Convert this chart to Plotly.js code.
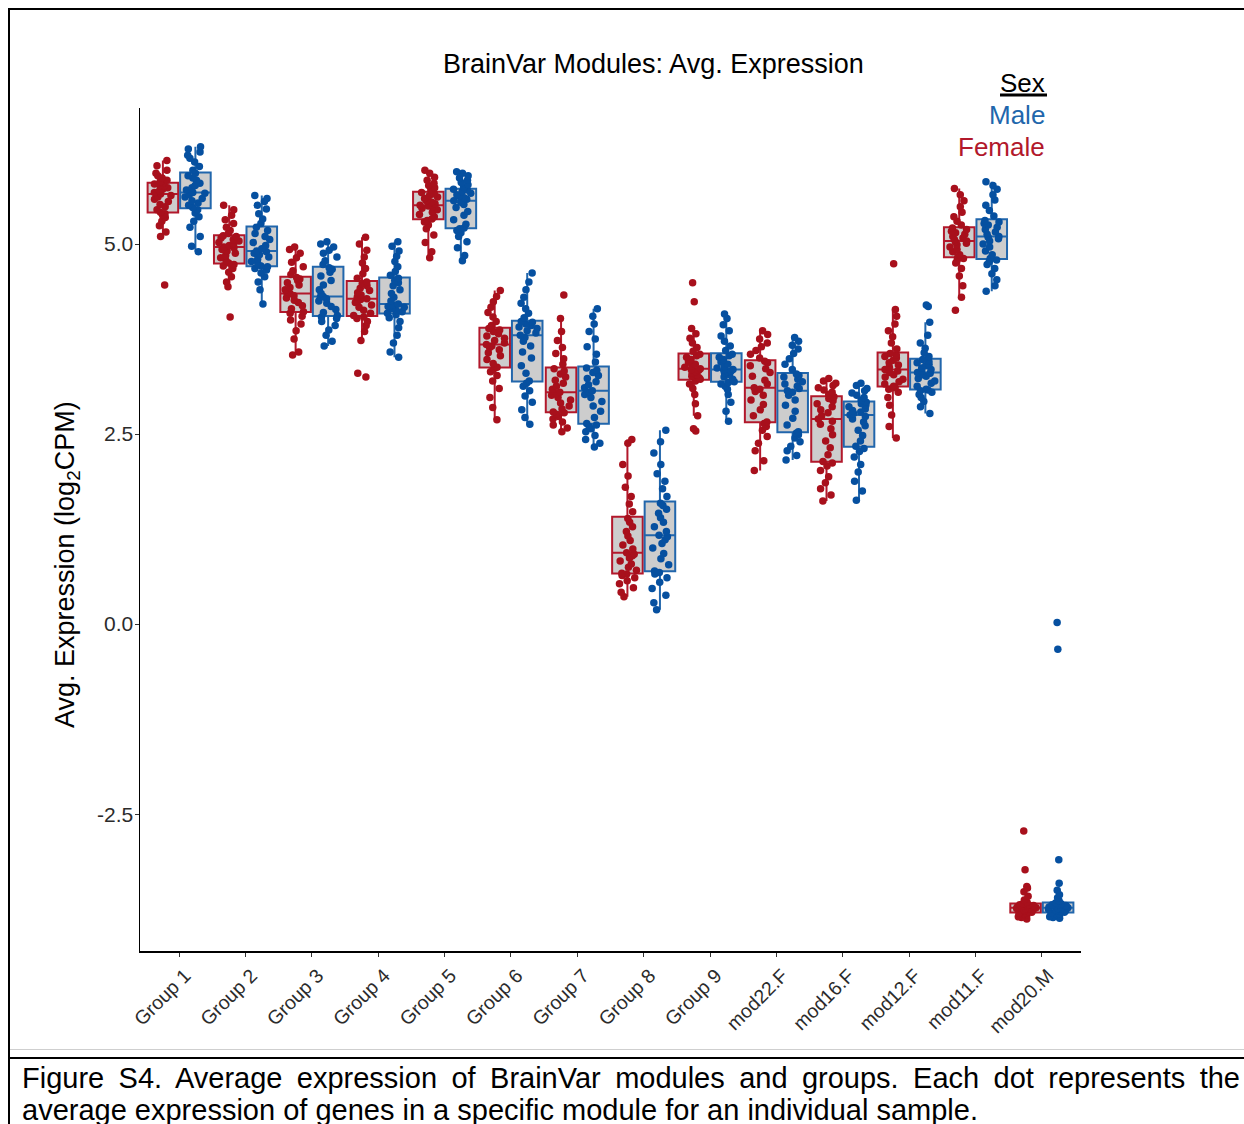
<!DOCTYPE html>
<html>
<head>
<meta charset="utf-8">
<script src="https://cdn.plot.ly/plotly-3.0.1.min.js"></script>
<style>
html,body{margin:0;padding:0;background:#fff;width:1244px;height:1124px;overflow:hidden;}
#chart{position:absolute;left:0;top:0;width:1244px;height:1124px;}
.rule{position:absolute;background:#000;}
#caption{position:absolute;left:22px;top:1062px;width:1218px;font-family:"Liberation Sans",Arial,sans-serif;font-size:29px;line-height:32px;color:#000;}
#caption .l1{text-align:justify;text-align-last:justify;white-space:nowrap;}
</style>
</head>
<body>
<div id="chart"></div>
<div class="rule" style="left:8px;top:8px;width:1236px;height:2px;"></div>
<div class="rule" style="left:8px;top:8px;width:2px;height:1116px;"></div>
<div class="rule" style="left:10px;top:1049px;width:1234px;height:1px;background:#cfcfcf;"></div>
<div class="rule" style="left:8px;top:1057px;width:1236px;height:2px;"></div>
<div id="caption">
<div class="l1">Figure S4. Average expression of BrainVar modules and groups. Each dot represents the</div>
<div>average expression of genes in a specific module for an individual sample.</div>
</div>
<script>
const categories = ['Group 1','Group 2','Group 3','Group 4','Group 5','Group 6','Group 7','Group 8','Group 9','mod22.F','mod16.F','mod12.F','mod11.F','mod20.M'];
const yTickValues = [-2.5, 0, 2.5, 5];
const yTickLabels = ['-2.5', '0.0', '2.5', '5.0'];
const legendLabels = ['Male', 'Female'];

// Female samples per category (avg. log2CPM)
const femaleValues = [
  [4.46,5.10,5.16,5.24,5.30,5.35,5.38,5.40,5.42,5.45,5.49,5.52,5.56,5.59,5.62,5.64,5.66,5.68,5.70,5.72,5.74,5.76,5.77,5.79,5.80,5.82,5.84,5.87,5.90,5.93,5.97,6.03,6.10],
  [4.04,4.44,4.50,4.57,4.63,4.68,4.71,4.73,4.75,4.78,4.82,4.85,4.88,4.91,4.93,4.95,4.96,4.98,5.00,5.02,5.04,5.06,5.08,5.10,5.11,5.14,5.18,5.22,5.27,5.32,5.38,5.45,5.51],
  [3.54,3.58,3.75,3.86,3.95,4.00,4.05,4.09,4.11,4.15,4.19,4.23,4.26,4.29,4.32,4.34,4.35,4.37,4.40,4.43,4.46,4.49,4.52,4.54,4.56,4.60,4.65,4.70,4.76,4.82,4.88,4.93,4.96],
  [3.25,3.30,3.73,3.85,3.93,3.98,4.02,4.04,4.06,4.09,4.13,4.17,4.20,4.23,4.25,4.27,4.28,4.30,4.33,4.36,4.39,4.42,4.45,4.48,4.50,4.55,4.61,4.68,4.75,4.83,4.92,5.00,5.09],
  [4.82,4.90,5.02,5.12,5.20,5.25,5.29,5.31,5.33,5.36,5.39,5.42,5.45,5.47,5.49,5.50,5.51,5.53,5.55,5.57,5.60,5.62,5.64,5.66,5.68,5.71,5.74,5.77,5.80,5.84,5.88,5.93,5.97],
  [2.69,2.85,2.98,3.10,3.20,3.27,3.32,3.36,3.38,3.43,3.48,3.53,3.57,3.61,3.64,3.66,3.68,3.70,3.73,3.76,3.79,3.82,3.85,3.87,3.89,3.93,3.98,4.04,4.10,4.17,4.24,4.31,4.39],
  [2.53,2.58,2.62,2.66,2.70,2.73,2.76,2.78,2.79,2.83,2.87,2.91,2.95,2.98,3.01,3.03,3.05,3.09,3.13,3.17,3.21,3.25,3.29,3.33,3.36,3.42,3.49,3.56,3.64,3.73,3.85,4.02,4.33],
  [0.36,0.42,0.48,0.53,0.57,0.61,0.64,0.66,0.67,0.71,0.75,0.79,0.83,0.87,0.90,0.92,0.94,0.99,1.04,1.10,1.16,1.22,1.28,1.34,1.39,1.48,1.58,1.68,1.80,1.95,2.10,2.38,2.43],
  [2.54,2.57,2.74,2.90,3.02,3.10,3.16,3.20,3.22,3.24,3.26,3.28,3.30,3.32,3.34,3.35,3.36,3.38,3.40,3.42,3.45,3.48,3.51,3.53,3.55,3.59,3.64,3.70,3.76,3.82,3.89,4.24,4.49],
  [2.02,2.15,2.28,2.38,2.47,2.55,2.60,2.64,2.66,2.74,2.82,2.89,2.95,3.01,3.06,3.09,3.11,3.16,3.21,3.26,3.31,3.36,3.40,3.44,3.46,3.50,3.55,3.60,3.65,3.70,3.75,3.81,3.86],
  [1.62,1.70,1.78,1.86,1.94,2.02,2.08,2.12,2.14,2.23,2.32,2.41,2.49,2.57,2.63,2.67,2.70,2.74,2.78,2.82,2.86,2.90,2.94,2.97,2.99,3.02,3.05,3.08,3.11,3.14,3.17,3.20,3.23],
  [2.45,2.60,2.75,2.88,2.98,3.05,3.09,3.11,3.13,3.16,3.19,3.22,3.25,3.28,3.31,3.33,3.35,3.38,3.41,3.44,3.47,3.50,3.52,3.54,3.56,3.62,3.70,3.78,3.86,3.95,4.05,4.14,4.74],
  [4.13,4.30,4.45,4.58,4.68,4.75,4.79,4.81,4.83,4.86,4.90,4.93,4.96,4.99,5.01,5.03,5.04,5.06,5.08,5.10,5.13,5.15,5.17,5.19,5.21,5.25,5.30,5.36,5.42,5.49,5.57,5.65,5.73],
  [-3.88,-3.86,-3.85,-3.83,-3.82,-3.81,-3.80,-3.80,-3.79,-3.78,-3.77,-3.76,-3.76,-3.75,-3.74,-3.74,-3.73,-3.72,-3.72,-3.71,-3.70,-3.70,-3.69,-3.69,-3.68,-3.66,-3.63,-3.58,-3.52,-3.47,-3.45,-3.23,-2.72]
];

// Male samples per category (avg. log2CPM)
const maleValues = [
  [4.90,4.97,5.10,5.22,5.30,5.36,5.41,5.45,5.48,5.51,5.54,5.57,5.60,5.62,5.65,5.67,5.68,5.71,5.74,5.77,5.80,5.84,5.87,5.90,5.93,5.97,6.02,6.08,6.13,6.17,6.21,6.25,6.28],
  [4.21,4.40,4.50,4.57,4.62,4.66,4.68,4.70,4.71,4.74,4.77,4.80,4.83,4.86,4.88,4.90,4.91,4.94,4.98,5.02,5.06,5.10,5.14,5.18,5.22,5.27,5.33,5.40,5.46,5.51,5.56,5.60,5.64],
  [3.66,3.72,3.80,3.87,3.93,3.98,4.02,4.04,4.06,4.10,4.14,4.18,4.22,4.25,4.28,4.30,4.31,4.35,4.40,4.46,4.52,4.58,4.63,4.67,4.69,4.73,4.78,4.83,4.88,4.92,4.96,5.00,5.03],
  [3.51,3.58,3.70,3.80,3.90,3.98,4.03,4.07,4.09,4.11,4.13,4.15,4.17,4.18,4.19,4.20,4.21,4.25,4.30,4.35,4.40,4.45,4.49,4.52,4.55,4.59,4.64,4.70,4.77,4.84,4.91,4.97,5.03],
  [4.78,4.85,4.95,5.03,5.10,5.15,5.18,5.20,5.21,5.26,5.32,5.38,5.43,5.48,5.52,5.55,5.57,5.59,5.61,5.63,5.65,5.67,5.69,5.71,5.72,5.75,5.78,5.81,5.84,5.87,5.90,5.93,5.95],
  [2.63,2.72,2.82,2.92,3.00,3.07,3.13,3.17,3.20,3.30,3.40,3.50,3.58,3.66,3.72,3.77,3.80,3.83,3.86,3.89,3.91,3.93,3.95,3.97,3.98,4.03,4.09,4.15,4.22,4.30,4.40,4.50,4.62],
  [2.33,2.38,2.43,2.48,2.53,2.57,2.60,2.62,2.64,2.72,2.80,2.87,2.93,2.98,3.02,3.05,3.07,3.11,3.15,3.19,3.23,3.27,3.31,3.34,3.37,3.45,3.55,3.65,3.75,3.85,3.95,4.05,4.15],
  [0.19,0.28,0.38,0.47,0.55,0.61,0.66,0.68,0.70,0.78,0.86,0.93,1.00,1.06,1.11,1.15,1.17,1.22,1.28,1.34,1.40,1.46,1.51,1.56,1.59,1.68,1.78,1.88,1.98,2.10,2.25,2.40,2.55],
  [2.67,2.80,2.92,3.02,3.09,3.13,3.16,3.18,3.19,3.22,3.25,3.28,3.30,3.32,3.33,3.34,3.35,3.37,3.39,3.42,3.45,3.48,3.51,3.53,3.55,3.60,3.66,3.72,3.79,3.86,3.94,4.02,4.08],
  [2.16,2.22,2.28,2.34,2.40,2.45,2.49,2.51,2.53,2.62,2.71,2.80,2.88,2.95,3.01,3.05,3.07,3.10,3.13,3.16,3.19,3.22,3.25,3.27,3.29,3.35,3.42,3.49,3.56,3.62,3.67,3.72,3.77],
  [1.63,1.75,1.88,2.00,2.10,2.20,2.27,2.31,2.34,2.41,2.48,2.55,2.61,2.66,2.70,2.73,2.75,2.77,2.79,2.81,2.83,2.86,2.88,2.90,2.92,2.95,2.98,3.01,3.04,3.07,3.10,3.14,3.17],
  [2.77,2.86,2.93,2.98,3.02,3.05,3.07,3.08,3.09,3.13,3.17,3.20,3.23,3.26,3.28,3.30,3.31,3.33,3.35,3.37,3.40,3.42,3.44,3.46,3.48,3.52,3.57,3.63,3.70,3.80,3.97,4.18,4.20],
  [4.38,4.45,4.53,4.61,4.68,4.73,4.77,4.79,4.81,4.86,4.91,4.96,5.00,5.04,5.07,5.09,5.10,5.13,5.16,5.19,5.22,5.25,5.27,5.29,5.31,5.37,5.44,5.51,5.58,5.65,5.72,5.77,5.82],
  [-3.87,-3.86,-3.85,-3.84,-3.83,-3.82,-3.81,-3.80,-3.79,-3.78,-3.77,-3.77,-3.76,-3.75,-3.75,-3.74,-3.73,-3.72,-3.71,-3.71,-3.70,-3.69,-3.69,-3.68,-3.67,-3.64,-3.60,-3.56,-3.50,-3.41,-3.10,-0.33,0.02]
];

function flat(values) {
  const xs = [], ys = [];
  values.forEach((arr, i) => arr.forEach(v => { xs.push(categories[i]); ys.push(v); }));
  return {x: xs, y: ys};
}

const FONT = '"Liberation Sans", Arial, Helvetica, sans-serif';
const f = flat(femaleValues), m = flat(maleValues);

function boxTrace(name, d, lineColor, pointColor) {
  return {
    type: 'box', name: name, x: d.x, y: d.y,
    boxpoints: 'all', jitter: 0.7, pointpos: 0,
    fillcolor: '#CDCDCD',
    line: {color: lineColor, width: 2},
    whiskerwidth: 0,
    marker: {color: pointColor, size: 7.5, opacity: 1, line: {width: 0}},
    showlegend: false, hoverinfo: 'y'
  };
}

const traces = [
  boxTrace('Female', f, '#B2182B', '#A8101C'),
  boxTrace('Male', m, '#2166AC', '#0650A0')
];

const L = 140, R = 1081, T = 108, B = 951;
const px = v => (v - L) / (R - L);
const py = v => (B - v) / (B - T);

const layout = {
  width: 1244, height: 1124,
  margin: {l: L, r: 1244 - R, t: T, b: 1124 - B, pad: 0},
  paper_bgcolor: '#ffffff', plot_bgcolor: '#ffffff',
  font: {family: FONT, color: '#000'},
  showlegend: false,
  boxmode: 'group', boxgap: 0.02, boxgroupgap: 0.06,
  xaxis: {
    type: 'category', categoryorder: 'array', categoryarray: categories,
    range: [-0.59, 13.59], showgrid: false, zeroline: false,
    showline: true, linecolor: '#000', linewidth: 1.5,
    ticks: 'outside', ticklen: 4, tickwidth: 1, tickcolor: '#333',
    tickangle: -45, ticklabelshift: 6,
    tickfont: {family: FONT, size: 19.5, color: '#2b2b2b'}
  },
  yaxis: {
    range: [-4.30, 6.79], showgrid: false, zeroline: false,
    showline: true, linecolor: '#000', linewidth: 1.5,
    ticks: 'outside', ticklen: 4, tickwidth: 1, tickcolor: '#333',
    tickvals: yTickValues, ticktext: yTickLabels, ticklabelstandoff: -3,
    tickfont: {family: FONT, size: 21, color: '#2b2b2b'}
  },
  annotations: [
    {text: 'BrainVar Modules: Avg. Expression', xref: 'paper', yref: 'paper', x: px(653), y: py(64),
     xanchor: 'center', yanchor: 'middle', showarrow: false, font: {family: FONT, size: 27, color: '#000'}},
    {text: 'Avg. Expression (log<sub>2</sub>CPM)', xref: 'paper', yref: 'paper', x: px(67), y: py(565),
     xanchor: 'center', yanchor: 'middle', textangle: -90, showarrow: false, font: {family: FONT, size: 27, color: '#000'}},
    {text: 'Sex', xref: 'paper', yref: 'paper', x: px(1047), y: py(83),
     xanchor: 'right', yanchor: 'middle', showarrow: false, font: {family: FONT, size: 26, color: '#000'}},
    {text: legendLabels[0], xref: 'paper', yref: 'paper', x: px(1047), y: py(115),
     xanchor: 'right', yanchor: 'middle', showarrow: false, font: {family: FONT, size: 26, color: '#2166AC'}},
    {text: legendLabels[1], xref: 'paper', yref: 'paper', x: px(1047), y: py(147),
     xanchor: 'right', yanchor: 'middle', showarrow: false, font: {family: FONT, size: 26, color: '#B2182B'}}
  ],
  shapes: [
    {type: 'line', xref: 'paper', yref: 'paper', x0: px(1000), x1: px(1047), y0: py(95), y1: py(95),
     line: {color: '#000', width: 3}}
  ]
};

Plotly.newPlot('chart', traces, layout, {displayModeBar: false, staticPlot: true});
</script>
</body>
</html>
